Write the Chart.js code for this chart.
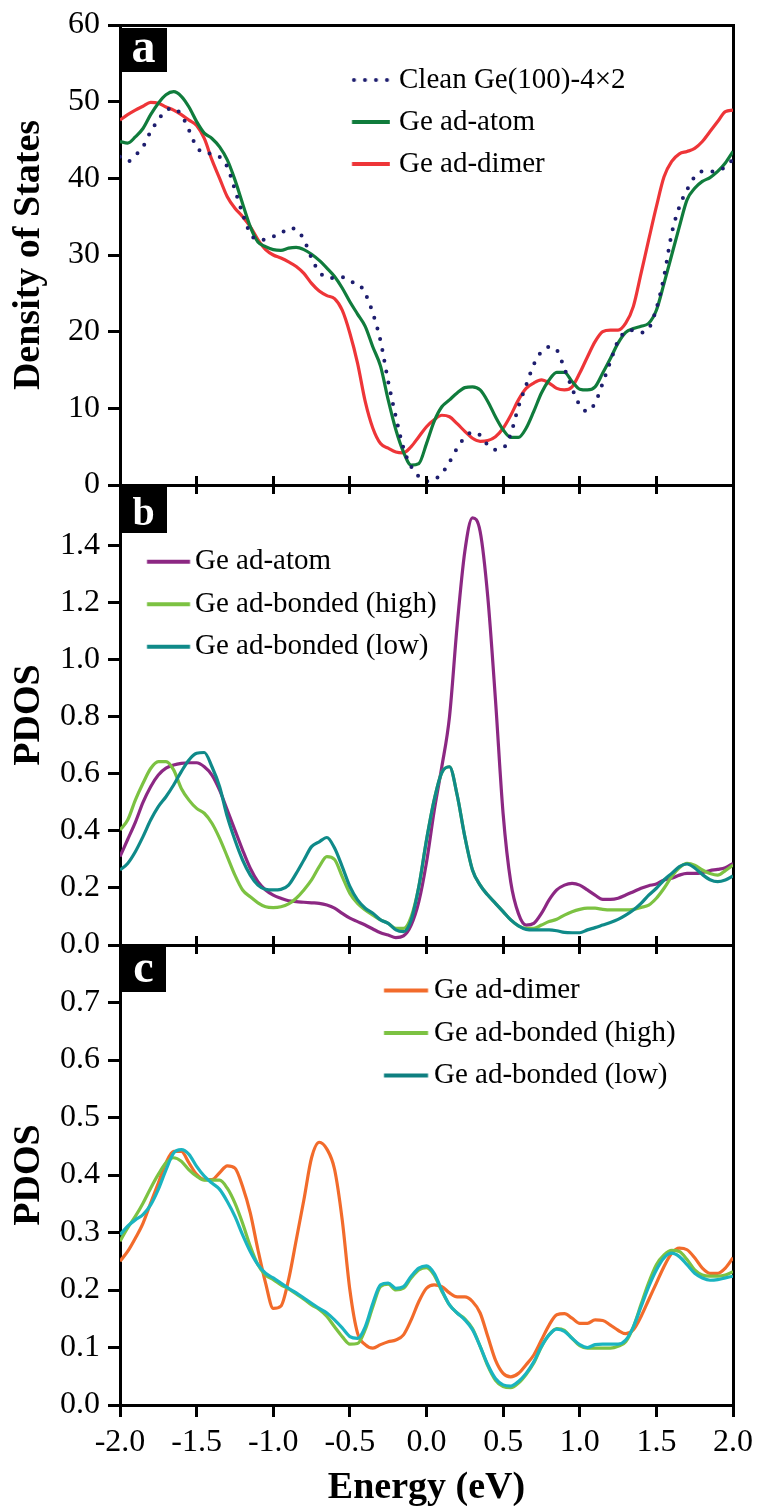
<!DOCTYPE html>
<html><head><meta charset="utf-8">
<script src="https://cdn.jsdelivr.net/npm/chart.js@4.4.1/dist/chart.umd.min.js"></script>
<style>
html,body{margin:0;padding:0;background:#fff;overflow:hidden;width:760px;height:1506px;position:relative;}
canvas{position:absolute;left:0;}
.tag{position:absolute;background:#000;color:#fff;font-family:"Liberation Serif",serif;font-weight:bold;text-align:center;z-index:5;}
</style></head><body>
<canvas id="ca" width="760" height="525" style="top:-10px"></canvas>
<canvas id="cb" width="760" height="520" style="top:455px"></canvas>
<canvas id="cc" width="760" height="605" style="top:915px"></canvas>
<div class="tag" style="left:120px;top:28px;width:47px;height:44px;font-size:48px;line-height:36px">a</div>
<div class="tag" style="left:120px;top:487px;width:47px;height:46px;font-size:40px;line-height:49px">b</div>
<div class="tag" style="left:121px;top:947px;width:45px;height:45px;font-size:46px;line-height:39px">c</div>
<script>
// ---------- data ----------
const energy = [-2.0,-1.95,-1.9,-1.85,-1.8,-1.75,-1.7,-1.65,-1.6,-1.55,-1.5,-1.45,-1.4,-1.35,-1.3,-1.25,-1.2,-1.15,-1.1,-1.05,-1.0,-0.95,-0.9,-0.85,-0.8,-0.75,-0.7,-0.65,-0.6,-0.55,-0.5,-0.45,-0.4,-0.35,-0.3,-0.25,-0.2,-0.15,-0.1,-0.05,0.0,0.05,0.1,0.15,0.2,0.25,0.3,0.35,0.4,0.45,0.5,0.55,0.6,0.65,0.7,0.75,0.8,0.85,0.9,0.95,1.0,1.05,1.1,1.15,1.2,1.25,1.3,1.35,1.4,1.45,1.5,1.55,1.6,1.65,1.7,1.75,1.8,1.85,1.9,1.95,2.0];

const xTicks = [-2.0,-1.5,-1.0,-0.5,0.0,0.5,1.0,1.5,2.0];
const yTicksA = [0,10,20,30,40,50,60];
const yTicksB = [0.0,0.2,0.4,0.6,0.8,1.0,1.2,1.4];
const yTicksC = [0.0,0.1,0.2,0.3,0.4,0.5,0.6,0.7];

// Panel a: Density of States
const cleanA = [42.8,42.2,43.0,44.1,46.1,47.6,48.9,49.1,48.3,46.3,
 44.1,43.3,43.2,42.8,41.5,38.5,35.4,32.8,32.0,32.0,
 32.4,32.8,33.5,33.3,32.0,29.6,27.8,27.1,27.0,27.1,
 26.5,26.3,25.0,22.4,18.8,13.5,8.9,4.8,2.4,1.1,
 0.5,0.7,1.5,3.0,4.8,6.2,6.9,6.5,5.2,4.6,
 4.8,6.7,10.2,13.0,15.7,17.4,18.0,17.6,15.2,12.6,
 10.4,9.6,10.7,13.3,16.1,18.8,20.0,20.2,19.9,20.4,
 23.0,27.2,32.8,36.3,38.5,40.2,40.9,40.9,41.0,41.5,
 42.5];
const adatomA = [44.8,44.6,45.4,46.5,48.3,49.8,50.9,51.3,50.7,49.3,
 47.4,45.9,45.2,44.1,42.4,39.8,36.7,33.7,31.7,31.1,
 30.7,30.6,30.9,31.0,30.7,30.1,29.3,28.3,27.2,25.7,
 23.9,22.3,20.7,18.0,15.5,11.1,7.2,4.3,2.6,2.8,
 5.4,8.3,10.2,11.1,12.0,12.7,12.8,12.4,10.9,8.9,
 7.2,6.2,6.2,7.4,9.6,12.0,13.7,14.7,14.7,13.5,
 12.5,12.4,12.8,14.6,16.5,18.5,19.9,20.4,20.7,21.1,
 22.8,26.3,30.0,33.7,37.2,38.7,39.6,40.1,40.9,42.0,
 43.5];
const dimerA = [47.6,48.3,48.9,49.4,49.9,49.8,49.3,48.9,48.3,47.6,
 46.9,45.2,42.4,40.0,37.6,36.1,35.0,33.7,32.0,30.7,
 30.0,29.6,29.1,28.5,27.6,26.3,25.3,24.7,24.3,22.8,
 19.8,15.9,10.9,7.4,5.4,4.8,4.3,4.2,5.0,6.3,
 7.6,8.5,9.1,8.9,8.0,7.0,6.1,5.7,5.8,6.3,
 7.4,9.1,11.1,12.6,13.3,13.7,13.3,12.6,12.4,12.8,
 14.6,16.7,18.7,20.0,20.2,20.2,21.1,23.3,27.6,32.0,
 36.3,40.2,42.2,43.2,43.5,43.9,44.8,46.1,47.4,48.7,
 48.9];

// Panel b: PDOS
const adatomB = [0.31,0.37,0.43,0.50,0.555,0.596,0.62,0.631,0.637,0.639,
 0.639,0.625,0.596,0.543,0.473,0.403,0.333,0.269,0.222,0.193,
 0.175,0.164,0.155,0.152,0.150,0.148,0.146,0.14,0.129,0.111,
 0.094,0.082,0.070,0.056,0.043,0.035,0.026,0.032,0.07,0.152,
 0.29,0.47,0.625,0.80,1.12,1.38,1.498,1.45,1.22,0.86,
 0.46,0.22,0.11,0.07,0.076,0.111,0.158,0.193,0.210,0.216,
 0.210,0.193,0.175,0.160,0.160,0.164,0.175,0.187,0.199,0.208,
 0.214,0.228,0.234,0.245,0.251,0.251,0.254,0.261,0.265,0.271,
 0.286];
const highB = [0.403,0.438,0.508,0.567,0.619,0.643,0.643,0.614,0.549,0.508,
 0.479,0.462,0.427,0.374,0.310,0.245,0.193,0.169,0.148,0.134,
 0.131,0.134,0.144,0.164,0.193,0.228,0.275,0.31,0.30,0.240,
 0.181,0.146,0.123,0.105,0.088,0.076,0.058,0.058,0.099,0.205,
 0.368,0.508,0.605,0.625,0.526,0.38,0.263,0.21,0.175,0.146,
 0.117,0.088,0.067,0.058,0.058,0.070,0.082,0.090,0.105,0.117,
 0.125,0.129,0.129,0.125,0.123,0.123,0.123,0.125,0.132,0.140,
 0.164,0.199,0.240,0.271,0.286,0.280,0.263,0.251,0.245,0.261,
 0.280];
const lowB = [0.263,0.286,0.327,0.380,0.438,0.485,0.520,0.561,0.608,0.649,
 0.672,0.675,0.625,0.555,0.450,0.368,0.298,0.245,0.210,0.195,
 0.193,0.195,0.210,0.251,0.298,0.345,0.362,0.377,0.34,0.275,
 0.205,0.158,0.129,0.111,0.088,0.076,0.053,0.047,0.088,0.205,
 0.368,0.508,0.605,0.625,0.526,0.38,0.263,0.21,0.175,0.146,
 0.117,0.088,0.067,0.055,0.053,0.053,0.053,0.050,0.044,0.043,
 0.043,0.053,0.061,0.070,0.079,0.090,0.105,0.123,0.146,0.175,
 0.199,0.228,0.251,0.275,0.284,0.270,0.247,0.229,0.222,0.228,
 0.242];

// Panel c: PDOS
const dimerC = [0.250,0.267,0.290,0.316,0.351,0.386,0.421,0.441,0.441,0.421,
 0.401,0.392,0.392,0.404,0.416,0.412,0.380,0.334,0.270,0.212,
 0.168,0.172,0.218,0.287,0.357,0.430,0.457,0.445,0.410,0.322,
 0.200,0.125,0.105,0.099,0.105,0.110,0.113,0.122,0.148,0.180,
 0.203,0.209,0.206,0.195,0.188,0.188,0.180,0.160,0.119,0.078,
 0.055,0.049,0.055,0.070,0.087,0.113,0.139,0.157,0.159,0.151,
 0.142,0.142,0.148,0.147,0.139,0.130,0.124,0.131,0.154,0.183,
 0.212,0.241,0.264,0.273,0.270,0.256,0.238,0.229,0.229,0.238,
 0.256];
const highC = [0.285,0.308,0.328,0.351,0.377,0.401,0.421,0.430,0.424,0.409,
 0.398,0.391,0.391,0.391,0.377,0.351,0.316,0.276,0.244,0.226,
 0.218,0.209,0.202,0.193,0.184,0.174,0.166,0.154,0.136,0.119,
 0.106,0.107,0.131,0.171,0.206,0.210,0.200,0.203,0.221,0.235,
 0.239,0.226,0.198,0.174,0.160,0.150,0.133,0.102,0.068,0.043,
 0.032,0.030,0.038,0.053,0.073,0.101,0.122,0.133,0.130,0.116,
 0.103,0.099,0.099,0.099,0.099,0.102,0.110,0.136,0.175,0.213,
 0.244,0.261,0.269,0.267,0.253,0.235,0.226,0.224,0.224,0.226,
 0.232];
const lowC = [0.296,0.311,0.322,0.331,0.348,0.375,0.409,0.438,0.444,0.436,
 0.415,0.398,0.386,0.375,0.354,0.328,0.296,0.267,0.244,0.229,
 0.221,0.212,0.203,0.195,0.186,0.177,0.168,0.160,0.148,0.134,
 0.119,0.116,0.136,0.177,0.209,0.212,0.203,0.206,0.224,0.238,
 0.242,0.229,0.200,0.174,0.160,0.148,0.131,0.102,0.070,0.046,
 0.035,0.033,0.041,0.055,0.075,0.102,0.122,0.132,0.128,0.116,
 0.105,0.100,0.105,0.106,0.106,0.106,0.113,0.136,0.171,0.206,
 0.235,0.256,0.264,0.258,0.244,0.229,0.221,0.217,0.218,0.221,
 0.224];

// ---------- rendering ----------
const FONT = '"Liberation Serif", "Times New Roman", serif';

function makeSample(color, L, bw, lw, dotted) {
  const half = Math.ceil(Math.max(L - bw / 2, bw / 2));
  const W = 2 * half, H = 10;
  const c = document.createElement('canvas');
  c.width = W; c.height = H;
  const g = c.getContext('2d');
  const x0 = half - bw / 2;
  g.strokeStyle = color; g.fillStyle = color; g.lineWidth = lw;
  g.beginPath();
  if (dotted) {
    g.setLineDash([0, 11]); g.lineCap = 'round';
    g.moveTo(x0 + 2, H / 2); g.lineTo(x0 + L, H / 2);
  } else {
    g.moveTo(x0, H / 2); g.lineTo(x0 + L, H / 2);
  }
  g.stroke();
  return c;
}

const legendPlacer = {
  id: 'legendPlacer',
  afterLayout(chart, args, opts) {
    const lg = chart.legend;
    if (!lg || opts.x === undefined) return;
    lg.left = opts.x - opts.pad;
    lg.top = opts.y - opts.fs / 2 - opts.pad;
  }
};

function buildChart(id, cfg) {
  const el = document.getElementById(id);
  const fs = 29;
  const datasets = cfg.series.map((s) => ({
    label: s.label,
    data: energy.map((e, i) => ({x: e, y: s.values[i]})),
    borderColor: s.color,
    borderWidth: s.dotted ? 4 : 3.2,
    borderDash: s.dotted ? [0, 11] : [],
    borderCapStyle: s.dotted ? 'round' : 'butt',
    borderJoinStyle: 'round',
    pointRadius: 0,
    fill: false,
    cubicInterpolationMode: 'monotone',
    order: s.order,
    xAxisID: 'x', yAxisID: 'y'
  }));
  const lg = cfg.legend;
  return new Chart(el, {
    type: 'line',
    data: {datasets},
    options: {
      responsive: false, animation: false, devicePixelRatio: 1, events: [],
      layout: {padding: {top: cfg.padTop, left: 0, right: 0, bottom: 0}, autoPadding: false},
      plugins: {
        tooltip: {enabled: false},
        legend: {
          display: true, position: 'chartArea', align: 'start',
          labels: {
            font: {family: FONT, size: fs}, color: '#000', padding: lg.pad,
            usePointStyle: true, pointStyleWidth: lg.bw,
            generateLabels: () => cfg.series.map((s, i) => ({
              text: s.label, fontColor: '#000', hidden: false, lineWidth: 0,
              strokeStyle: 'rgba(0,0,0,0)', fillStyle: 'rgba(0,0,0,0)',
              pointStyle: makeSample(s.legendColor || s.color, lg.L, lg.bw, 4, s.dotted),
              datasetIndex: i
            }))
          }
        },
        legendPlacer: {x: lg.x, y: lg.y, pad: lg.pad, fs: fs}
      },
      scales: {
        x: {
          type: 'linear', position: 'bottom', min: -2, max: 2,
          afterBuildTicks: (s) => { s.ticks = xTicks.map(v => ({value: v})); },
          ticks: {display: cfg.bottom, font: {family: FONT, size: 32}, color: '#000', padding: 6,
                  maxRotation: 0, autoSkip: false, callback: (v) => Number(v).toFixed(1)},
          grid: {drawOnChartArea: false, drawTicks: true, tickLength: cfg.bottom ? 12 : 9, color: '#000', lineWidth: 3},
          border: {display: true, color: '#000', width: 3},
          title: cfg.bottom ? {display: true, text: 'Energy (eV)', color: '#000',
                  font: {family: FONT, size: 38, weight: 'bold'}, padding: {top: 0, bottom: 9}} : {display: false},
          afterFit: (s) => { s.height = cfg.xHeight; }
        },
        xt: {
          type: 'linear', position: 'top', min: -2, max: 2,
          afterBuildTicks: (s) => { s.ticks = xTicks.map(v => ({value: v})); },
          ticks: {display: false},
          grid: {display: cfg.topTicks, drawOnChartArea: false, drawTicks: cfg.topTicks, tickLength: 9, color: '#000', lineWidth: 3},
          border: {display: true, color: '#000', width: 3},
          afterFit: (s) => { s.height = cfg.topHeight; }
        },
        y: {
          type: 'linear', position: 'left', min: 0, max: cfg.yMax,
          afterBuildTicks: (s) => { s.ticks = cfg.yTicks.map(v => ({value: v})); },
          ticks: {font: {family: FONT, size: 32}, color: '#000', padding: 8, autoSkip: false,
                  callback: (v) => cfg.fmt(v)},
          grid: {drawOnChartArea: false, drawTicks: true, tickLength: 12, color: '#000', lineWidth: 3},
          border: {display: true, color: '#000', width: 3},
          title: {display: true, text: cfg.yTitle, color: '#000',
                  font: {family: FONT, size: 38, weight: 'bold'}, padding: {top: 6, bottom: 0}},
          afterFit: (s) => { s.width = 120; }
        },
        yr: {
          type: 'linear', position: 'right', min: 0, max: 1,
          ticks: {display: false},
          grid: {display: false, drawTicks: false},
          border: {display: true, color: '#000', width: 3},
          afterFit: (s) => { s.width = 27; }
        }
      }
    },
    plugins: [legendPlacer]
  });
}

// Panel a (canvas top -10): plot area 25..485
buildChart('ca', {
  padTop: 35, topHeight: 0, xHeight: 30, topTicks: false, bottom: false,
  yMax: 60, yTicks: yTicksA, fmt: (v) => String(Math.round(v)), yTitle: 'Density of States',
  legend: {x: 352, y: 90, pad: 13, bw: 32.5, L: 38},
  series: [
    {label: 'Clean Ge(100)-4\u00d72', values: cleanA, color: '#1d1d6e', dotted: true, order: 0},
    {label: 'Ge ad-atom', values: adatomA, color: '#107c3c', order: 1},
    {label: 'Ge ad-dimer', values: dimerA, color: '#ee3538', order: 2}
  ]
});

// Panel b (canvas top 455): plot area 485..945
buildChart('cb', {
  padTop: 0, topHeight: 30, xHeight: 30, topTicks: true, bottom: false,
  yMax: 1.613, yTicks: yTicksB, fmt: (v) => Number(v).toFixed(1), yTitle: 'PDOS',
  legend: {x: 147, y: 106.7, pad: 13.5, bw: 33.5, L: 43},
  series: [
    {label: 'Ge ad-atom', values: adatomB, color: '#8c2883', order: 2},
    {label: 'Ge ad-bonded (high)', values: highB, color: '#7cc242', order: 1},
    {label: 'Ge ad-bonded (low)', values: lowB, color: '#0f8a89', order: 0}
  ]
});

// Panel c (canvas top 915): plot area 945..1405
buildChart('cc', {
  padTop: 0, topHeight: 30, xHeight: 115, topTicks: true, bottom: true,
  yMax: 0.8, yTicks: yTicksC, fmt: (v) => Number(v).toFixed(1), yTitle: 'PDOS',
  legend: {x: 384, y: 75.5, pad: 13.5, bw: 35.5, L: 44},
  series: [
    {label: 'Ge ad-dimer', values: dimerC, color: '#f26b2b', order: 2},
    {label: 'Ge ad-bonded (high)', values: highC, color: '#7cc242', order: 1},
    {label: 'Ge ad-bonded (low)', values: lowC, color: '#1ab4c0', legendColor: '#0e7f80', order: 0}
  ]
});
</script>
</body></html>
